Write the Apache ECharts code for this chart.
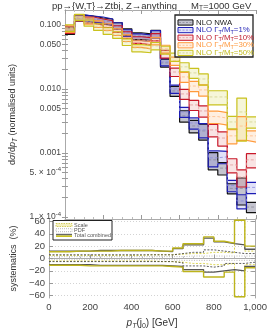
<!DOCTYPE html>
<html><head><meta charset="utf-8">
<script src="https://cdn.jsdelivr.net/npm/echarts@6/dist/echarts.min.js"></script>
<style>html,body{margin:0;padding:0;background:#fff}#c{width:270px;height:331px}</style>
</head><body><div id="c"></div>
<script>
// ---- data ----
const binEdges = [0,50,100,150,200,250,300,350,400,450,500,550,600,650,700,750,800,850,900,950,1000];
const nloNWA = [0.0806,0.128,0.1241,0.1155,0.1114,0.0965,0.0777,0.0673,0.0649,0.073,0.0255,0.0093,0.0038,0.00264,0.00221,0.00078,0.00058,0.00028,0.00028,0.000143];
const nloW1  = [0.0835,0.129,0.1241,0.1197,0.1114,0.0965,0.075,0.0649,0.0626,0.072,0.0264,0.0100,0.00437,0.00294,0.00229,0.00084,0.00087,0.00031,0.000178,0.00029];
const nloW10 = [0.0835,0.130,0.1197,0.1114,0.1036,0.0866,0.0698,0.0583,0.0562,0.0649,0.0352,0.0184,0.00835,0.00562,0.00453,0.00229,0.00171,0.00065,0.00042,0.00078];
const nloW30 = [0.0866,0.131,0.1155,0.1036,0.0931,0.0777,0.0626,0.0505,0.0487,0.0562,0.0422,0.0274,0.0154,0.0111,0.00965,0.0037,0.0035,0.00185,0.00263,0.00185];
const nloW50 = [0.0898,0.132,0.1075,0.0931,0.0806,0.0698,0.0542,0.0437,0.0422,0.047,0.0407,0.0316,0.0221,0.0178,0.0143,0.0075,0.0075,0.00305,0.00437,0.00305];
// band half-widths (%)
const errNWA = [12,11,11,11,11,12,12,12,12,13,14,18,20,22,28,30,22,18,45,18];
const errW1  = [12,11,11,11,11,12,12,12,12,13,13,15,18,20,25,28,22,20,25,20];
const errW10 = [12,11,11,11,12,12,12,12,13,13,14,15,18,18,20,22,25,25,30,25];
const errW30 = [12,11,11,12,12,12,12,12,13,13,14,15,18,18,20,22,22,25,40,20];
const errW50 = [12,11,11,12,12,12,12,13,13,13,14,15,16,18,20,25,25,22,65,20];
// systematics (%)
const totNWAUp = [12,12,12,12,13,13,13,13,13,13,12,11,16,22,22,33,27,24,22,15];
const totNWADn = [-10,-10,-10,-10,-11,-11,-11,-11,-11,-11,-11,-12,-13,-18,-18,-22,-20,-18,-20,-13];
const tot50Up  = [11,11,12,12,12,12,13,13,13,13,12,12,17,24,24,35,28,25,62,20];
const tot50Dn  = [-11,-11,-11,-12,-12,-12,-12,-12,-12,-12,-12,-13,-14,-21,-21,-30,-30,-22,-62,-15];
const scaleNWAUp = [6,6,6,6,6,6,6,6,6,6,6,6,8,10,10,14,12,10,8,8];
const scaleNWADn = [-5,-5,-5,-5,-5,-5,-5,-5,-5,-5,-5,-5,-7,-12,-12,-14,-12,-8,-8,-6];
const scale50Up  = [5,5,5,5,5,5,5,5,5,6,6,6,7,8,8,10,10,9,62,12];
const scale50Dn  = [-4,-4,-4,-4,-4,-4,-4,-4,-4,-4,-5,-5,-6,-8,-8,-10,-10,-8,-62,-10];
const pdfUp = [3,3,3,3,3,3,3,3,3,3,3,3,3,4,4,4,4,4,4,4];
const pdfDn = [-2,-2,-2,-2,-2,-2,-2,-2,-2,-2,-2,-2,-3,-3,-3,-3,-3,-3,-3,-3];
const xTicks = [0,200,400,600,800,1000];
const yLogTicks = [1e-4,5e-4,0.001,0.005,0.01,0.05,0.1];
const yLogLabels = ['1. × 10{s|-4}','5. × 10{s|-4}','0.001','0.005','0.010','0.050','0.100'];
const ySysTicks = [-60,-40,-20,0,20,40,60];

// ---- build ----
const FONT = 'Liberation Sans, Arial, sans-serif';
function stepData(v){ const d = v.map((y,i)=>[binEdges[i], y]); d.push([binEdges[binEdges.length-1], v[v.length-1]]); return d; }
function withErr(v,e,s){ return v.map((y,i)=>y*(1+s*e[i]/100)); }
const series = [];
const defs = [
  {v:nloNWA,e:errNWA,edge:'#111111',fill:'rgba(60,60,95,0.30)',mid:'#8a8a9a'},
  {v:nloW1, e:errW1, edge:'#1c1cb4',fill:'rgba(90,90,215,0.18)',mid:'#8c8ce0'},
  {v:nloW10,e:errW10,edge:'#c8182a',fill:'rgba(215,90,90,0.16)',mid:'#e29a9a'},
  {v:nloW30,e:errW30,edge:'#ff9a3c',fill:'rgba(255,175,100,0.20)',mid:'#ffbb88'},
  {v:nloW50,e:errW50,edge:'#c9c21e',fill:'rgba(222,222,120,0.28)',mid:'#d2d290'}
];
defs.forEach((d,k)=>{
  const lo = withErr(d.v,d.e,-1), hi = withErr(d.v,d.e,1);
  series.push({type:'custom',xAxisIndex:0,yAxisIndex:0,z:2+k,clip:true,
    data: d.v.map((y,i)=>[binEdges[i],binEdges[i+1],lo[i],hi[i]]),
    encode:{x:[0,1],y:[2,3]},
    renderItem:(p,api)=>{ const a=api.coord([api.value(0),api.value(3)]), b=api.coord([api.value(1),api.value(2)]);
      return {type:'rect',shape:{x:a[0],y:a[1],width:b[0]-a[0],height:b[1]-a[1]},style:{fill:d.fill}}; }});
  [lo,hi].forEach(arr=>series.push({type:'line',xAxisIndex:0,yAxisIndex:0,step:'end',showSymbol:false,z:3+k,
    data:stepData(arr),lineStyle:{color:d.edge,width:1.2}}));
  series.push({type:'line',xAxisIndex:0,yAxisIndex:0,step:'end',showSymbol:false,z:3+k,
    data:stepData(d.v),lineStyle:{color:d.mid,width:0.8,type:[3,2]}});
});
const sysDefs = [
  [pdfUp,'#aaaaaa',0.8,[1,1.5]],[pdfDn,'#aaaaaa',0.8,[1,1.5]],
  [scale50Up,'#d6cf40',0.9,[2,1.5]],[scale50Dn,'#d6cf40',0.9,[2,1.5]],
  [scaleNWAUp,'#333333',0.8,[2,1.5]],[scaleNWADn,'#333333',0.8,[2,1.5]],
  [totNWAUp,'#555555',1.3,'solid'],[totNWADn,'#555555',1.3,'solid'],
  [tot50Up,'#bdb41c',1.4,'solid'],[tot50Dn,'#bdb41c',1.4,'solid']
];
sysDefs.forEach(s=>series.push({type:'line',xAxisIndex:2,yAxisIndex:2,step:'end',showSymbol:false,
  data:stepData(s[0]),lineStyle:{color:s[1],width:s[2],type:s[3]}}));

const axisCol = '#aaaaaa', labCol = '#444444';
function xAx(grid,pos,labels,name){ return {gridIndex:grid,type:'value',min:0,max:1000,interval:200,position:pos,
  axisLine:{lineStyle:{color:axisCol}},axisTick:{inside:true,length:4,lineStyle:{color:'#999'}},
  minorTick:{show:true,splitNumber:4,length:2,lineStyle:{color:'#bbb'}},splitLine:{show:false},
  axisLabel:{show:labels,color:labCol,fontSize:9.5,fontFamily:FONT,margin:4},
  name:name||'',nameLocation:'middle',nameGap:19,
  nameTextStyle:{color:'#333',fontSize:10,fontFamily:FONT,rich:{i:{fontStyle:'italic',fontSize:10,fontFamily:FONT,color:'#333'},s:{fontSize:7,fontFamily:FONT,color:'#333',verticalAlign:'bottom',padding:[6,0,0,0]},si:{fontSize:7,fontStyle:'italic',fontFamily:FONT,color:'#333',padding:[6,0,0,0]}}}}; }
const minorLog = [];
[1e-4,1e-3,1e-2,1e-1].forEach(b=>{for(let m=1;m<10;m++){const v=b*m; if(v>=9.3e-5&&v<=0.171) minorLog.push(v);}});
const option = {
  animation:false,
  grid:[{left:49,top:10,width:207,height:209},{left:49,top:219,width:207,height:83}],
  xAxis:[xAx(0,'bottom',false),xAx(0,'top',false),
    xAx(1,'bottom',true,'{i|p}{si|T}(j{s|0}) [GeV]')],
  yAxis:[
    {gridIndex:0,type:'log',min:9.3e-5,max:0.171,position:'left',
     axisLine:{show:true,lineStyle:{color:axisCol}},
     axisTick:{inside:true,length:3,customValues:minorLog,lineStyle:{color:'#999'}},
     axisLabel:{color:labCol,fontSize:8.5,fontFamily:FONT,margin:4,customValues:yLogTicks,
       formatter:v=>{let bi=0,bd=1e9; yLogTicks.forEach((t,i)=>{const d=Math.abs(Math.log10(t)-Math.log10(v)); if(d<bd){bd=d;bi=i;}}); return yLogLabels[bi];},
       rich:{s:{fontSize:6,fontFamily:FONT,color:labCol,verticalAlign:'top',padding:[0,0,5,0]}}},
     splitLine:{show:false},
     name:'d{g|σ}/d{i|p}{s|T} (normalised units)',nameLocation:'middle',nameGap:36,nameRotate:90,
     nameTextStyle:{color:'#333',fontSize:9,fontFamily:FONT,rich:{g:{fontSize:9,fontStyle:'italic',fontFamily:FONT,color:'#333'},i:{fontSize:9,fontStyle:'italic',fontFamily:FONT,color:'#333'},s:{fontSize:6.5,fontStyle:'italic',fontFamily:FONT,color:'#333',padding:[5,0,0,0]}}}},
    {gridIndex:0,type:'log',min:9.3e-5,max:0.171,position:'right',
     axisLine:{show:true,lineStyle:{color:axisCol}},axisLabel:{show:false},splitLine:{show:false},
     axisTick:{inside:true,length:3,customValues:minorLog,lineStyle:{color:'#999'}}},
    {gridIndex:1,type:'value',min:-64,max:64,position:'left',
     axisLine:{show:true,lineStyle:{color:axisCol}},
     axisTick:{inside:true,length:4,customValues:ySysTicks,lineStyle:{color:'#999'}},
     axisLabel:{color:labCol,fontSize:9.5,fontFamily:FONT,margin:4,customValues:ySysTicks,formatter:v=>v<0?'\u2212'+(-v):''+v},
     splitLine:{show:true,lineStyle:{color:'#c8c8c8',type:[1,2],width:0.8}},
     name:'systematics  (%)',nameLocation:'middle',nameGap:30,nameRotate:90,
     nameTextStyle:{color:'#333',fontSize:9,fontFamily:FONT}},
    {gridIndex:1,type:'value',min:-64,max:64,position:'right',
     axisLine:{show:true,lineStyle:{color:axisCol}},axisLabel:{show:false},splitLine:{show:false},
     axisTick:{inside:true,length:4,customValues:ySysTicks,lineStyle:{color:'#999'}}}
  ],
  series:series,
  graphic:[
    {type:'text',left:52,top:1,style:{text:'pp→{W,T}→Ztbj, Z→anything',fill:'#333',font:'9.5px '+FONT}},
    {type:'text',left:191,top:1,style:{text:'M{s|T}=1000 GeV',fill:'#333',font:'9.5px '+FONT,rich:{s:{fontSize:6.5,fill:'#333',padding:[5,0,0,0]}}}},
    {type:'rect',z:50,shape:{x:175,y:15,width:78,height:42},style:{fill:'#fff',stroke:'#222',lineWidth:1.3}},
    ...defs.flatMap((d,k)=>{const cy=22.5+k*7.6; const txt=['NLO NWA','NLO Γ{s|T}/M{s|T}=1%','NLO Γ{s|T}/M{s|T}=10%','NLO Γ{s|T}/M{s|T}=30%','NLO Γ{s|T}/M{s|T}=50%'][k];
      const tc=['#222','#2a2ab8','#c02030','#ff9a40','#c2bb20'][k];
      return [
      {type:'rect',z:51,shape:{x:178,y:cy-2.6,width:15,height:5.2},style:{fill:d.fill,stroke:d.edge,lineWidth:1}},
      {type:'line',z:52,shape:{x1:179,y1:cy,x2:192,y2:cy},style:{stroke:d.mid,lineWidth:0.8,lineDash:[2,1.5]}},
      {type:'text',z:52,x:196,y:cy,style:{text:txt,fill:tc,font:'7.8px '+FONT,verticalAlign:'middle',rich:{s:{fontSize:5.5,fill:tc,padding:[4,0,0,0]}}}}];}),
    {type:'rect',z:50,shape:{x:53,y:220.5,width:59,height:19.5},style:{fill:'#fff',stroke:'#222',lineWidth:1}},
    {type:'rect',z:51,shape:{x:56,y:223.5,width:16,height:3},style:{fill:'#f4f0c0',stroke:'#c8c040',lineWidth:0.8,lineDash:[1.5,1]}},
    {type:'text',z:52,x:74,y:225,style:{text:'Scale',fill:'#555',font:'5.5px '+FONT,verticalAlign:'middle'}},
    {type:'rect',z:51,shape:{x:56,y:228.7,width:16,height:3},style:{fill:'#fff',stroke:'#aaa',lineWidth:0.8,lineDash:[1,1]}},
    {type:'text',z:52,x:74,y:230.2,style:{text:'PDF',fill:'#555',font:'5.5px '+FONT,verticalAlign:'middle'}},
    {type:'rect',z:51,shape:{x:56,y:233.8,width:16,height:1.6},style:{fill:'#666'}},
    {type:'rect',z:51,shape:{x:56,y:235.4,width:16,height:1.6},style:{fill:'#c9c21e'}},
    {type:'text',z:52,x:74,y:235.5,style:{text:'Total combined',fill:'#555',font:'5.5px '+FONT,verticalAlign:'middle'}}
  ]
};
const chart = echarts.init(document.getElementById('c'),null,{renderer:'canvas'});
chart.setOption(option);
</script></body></html>
